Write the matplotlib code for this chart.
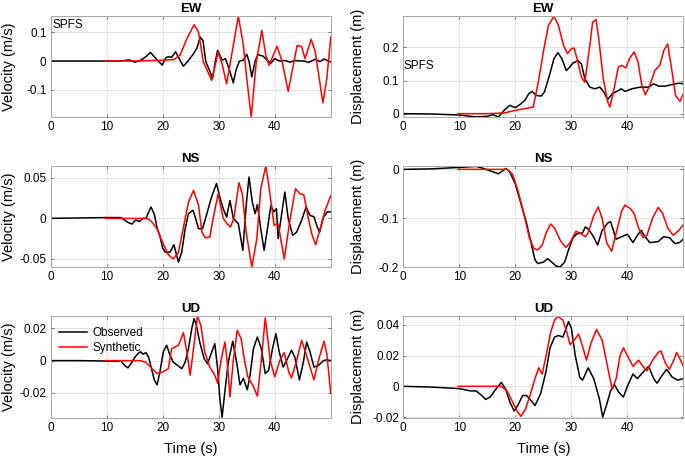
import numpy as np
import matplotlib
matplotlib.use("Agg")
import matplotlib.pyplot as plt

plt.rcParams['font.family'] = ['Liberation Sans', 'DejaVu Sans']

# ---- EW velocity (m/s) ----
ew_vel_obs_t = [0, 5, 10, 12.5, 14, 15, 16, 17, 17.8, 18.8, 19.9, 20.6, 21.1, 21.6, 22.3, 23.1, 23.7, 24.5, 25.5, 26.1, 26.7, 27.2, 27.7, 28.3, 28.9, 29.4, 29.8, 30.6, 31.2, 31.9, 32.6, 33.1, 33.7, 34.4, 35.0, 35.4, 35.9, 36.5, 37.0, 37.9, 38.7, 39.3, 40.0, 40.9, 41.8, 42.7, 43.6, 44.5, 45.3, 46.0, 47.2, 48.1, 48.8, 49.6, 50]
ew_vel_obs = [0, 0, 0, 0.0, 0.004, -0.004, 0.002, 0.015, 0.03, 0.008, -0.014, 0.012, 0.015, 0.013, 0.032, 0.002, -0.018, 0.0, 0.025, 0.045, 0.083, 0.07, -0.003, -0.03, -0.06, 0.0, 0.037, 0.003, 0.008, -0.03, -0.076, -0.03, 0.0, 0.003, 0.023, 0.0, -0.055, 0.0, 0.022, 0.017, 0.002, -0.008, 0.008, 0.0, 0.002, -0.004, 0.002, 0.0, 0.0, -0.005, 0.006, -0.002, 0.007, 0.0, -0.003]
ew_vel_syn_t = [9.8, 15, 20, 22.0, 23.1, 24.3, 25.6, 26.4, 27.25, 28.75, 29.9, 30.6, 31.4, 32.6, 33.5, 34.4, 35.0, 35.8, 36.7, 37.7, 38.4, 39.0, 40.4, 41.3, 42.4, 43.3, 44.0, 44.8, 45.4, 46.5, 47.2, 48.6, 49.3, 50]
ew_vel_syn = [0, 0.0, 0.003, 0.005, 0.02, 0.077, 0.126, 0.1, -0.003, -0.067, 0.031, -0.01, -0.079, 0.054, 0.156, 0.054, -0.06, -0.194, -0.003, 0.106, 0.02, -0.015, 0.051, 0.0, -0.105, -0.015, 0.054, 0.05, 0.008, 0.075, 0.035, -0.145, -0.06, 0.083]

# ---- EW displacement (m) ----
ew_dis_obs_t = [0, 5, 10, 13, 15, 16, 17, 18, 19, 20, 21, 21.7, 22.4, 23.0, 23.7, 24.6, 25.2, 26.1, 26.9, 27.6, 28.3, 29.1, 29.7, 30.3, 31.2, 31.8, 32.4, 33.3, 34.2, 35.1, 35.8, 36.5, 37.3, 38.1, 38.9, 39.6, 40.8, 42.3, 43.8, 44.7, 45.6, 46.8, 48.0, 49.2, 50]
ew_dis_obs = [0, -0.001, -0.004, -0.01, -0.008, -0.003, -0.01, 0.01, 0.025, 0.018, 0.03, 0.04, 0.06, 0.067, 0.055, 0.053, 0.065, 0.116, 0.166, 0.184, 0.166, 0.13, 0.14, 0.153, 0.16, 0.15, 0.106, 0.08, 0.075, 0.08, 0.065, 0.043, 0.06, 0.067, 0.075, 0.067, 0.075, 0.08, 0.08, 0.09, 0.083, 0.083, 0.088, 0.092, 0.09]
ew_dis_syn_t = [9.8, 15, 18, 20, 21.7, 23.2, 24.1, 25.0, 25.9, 26.9, 27.7, 28.6, 29.3, 30.0, 30.5, 31.1, 31.8, 32.4, 33.3, 33.8, 34.4, 34.9, 35.7, 36.5, 36.9, 37.5, 38.4, 39.0, 39.7, 40.4, 41.2, 41.9, 42.6, 43.2, 44.0, 44.9, 45.8, 46.5, 47.2, 47.9, 48.6, 49.4, 50]
ew_dis_syn = [0, 0, 0.002, 0.01, 0.015, 0.02, 0.095, 0.186, 0.266, 0.294, 0.266, 0.206, 0.181, 0.196, 0.198, 0.16, 0.11, 0.095, 0.206, 0.276, 0.284, 0.226, 0.106, 0.035, 0.02, 0.065, 0.141, 0.146, 0.138, 0.166, 0.186, 0.156, 0.085, 0.057, 0.085, 0.13, 0.146, 0.19, 0.21, 0.136, 0.055, 0.037, 0.06]

# ---- NS velocity (m/s) ----
ns_vel_obs_t = [0, 5, 10, 12.5, 13.8, 14.5, 15.2, 15.8, 16.5, 17.0, 17.5, 17.9, 18.5, 19.0, 19.5, 20.0, 20.5, 21.3, 22.0, 22.8, 23.4, 24.0, 24.6, 25.4, 25.8, 26.4, 27.1, 27.8, 28.7, 29.6, 30.2, 30.8, 31.4, 32.0, 32.6, 33.5, 34.3, 34.9, 35.4, 36.0, 36.5, 36.9, 37.5, 38.1, 38.7, 39.3, 39.8, 40.3, 40.6, 41.2, 41.8, 42.4, 43.2, 43.9, 44.8, 45.6, 46.3, 47.0, 47.6, 48.0, 48.7, 49.4, 50]
ns_vel_obs = [0, 0.0005, 0.001, 0.001, -0.005, -0.007, -0.002, -0.004, 0.0, 0.0, 0.008, 0.014, 0.005, -0.012, -0.022, -0.037, -0.042, -0.0416, -0.0325, -0.054, -0.0416, -0.0128, 0.0058, 0.01, 0.0016, -0.0128, -0.0128, 0.0037, 0.026, 0.043, 0.026, 0.012, 0.0016, 0.022, 0.0, -0.0066, -0.0395, 0.016, 0.051, 0.02, 0.0058, 0.017, -0.0128, -0.0395, -0.0128, 0.016, 0.008, 0.012, -0.025, 0.0037, 0.0325, 0.0, -0.021, -0.017, -0.0025, 0.014, 0.0037, 0.002, -0.0107, -0.017, 0.0016, 0.008, 0.008]
ns_vel_syn_t = [9.8, 15, 17.0, 17.5, 18.0, 19.0, 20.0, 21.0, 21.9, 22.8, 23.7, 24.6, 25.5, 26.4, 27.0, 27.6, 28.4, 29.1, 29.9, 30.8, 31.5, 32.1, 32.7, 33.6, 34.2, 34.9, 35.9, 36.8, 37.5, 38.4, 39.1, 39.9, 40.6, 41.7, 42.7, 43.7, 44.5, 45.2, 46.0, 46.6, 47.3, 48.1, 49.0, 50]
ns_vel_syn = [0, 0, 0.0, -0.001, -0.004, -0.013, -0.03, -0.045, -0.05, -0.042, -0.011, 0.02, 0.0346, 0.016, -0.017, -0.024, -0.023, 0.0037, 0.0304, 0.0, -0.0066, -0.0107, 0.0, 0.044, 0.0304, -0.017, -0.06, -0.025, 0.0366, 0.0646, 0.0325, -0.0086, -0.0066, -0.05, -0.0025, 0.0366, 0.0304, 0.029, 0.0, -0.019, -0.0325, -0.0128, 0.01, 0.028]

# ---- NS displacement (m) ----
ns_dis_obs_t = [0, 5, 10, 13, 14, 16, 17, 17.5, 18.3, 19, 20, 21, 22, 22.8, 23.5, 24, 25, 25.8, 26.5, 27.3, 28, 28.8, 29.5, 30.3, 31, 32, 32.5, 33, 33.8, 34.7, 35.5, 36.5, 37, 37.5, 38, 39, 40, 41, 41.8, 42.5, 43, 44, 45.5, 46.5, 47.5, 48.5, 49.3, 50]
ns_dis_obs = [0, 0.001, 0.004, 0.006, 0.003, -0.005, -0.009, -0.005, 0.002, -0.005, -0.03, -0.07, -0.11, -0.15, -0.185, -0.193, -0.19, -0.183, -0.19, -0.198, -0.2, -0.19, -0.165, -0.14, -0.132, -0.13, -0.118, -0.122, -0.135, -0.155, -0.125, -0.11, -0.107, -0.125, -0.143, -0.138, -0.133, -0.15, -0.135, -0.125, -0.135, -0.15, -0.148, -0.138, -0.14, -0.152, -0.15, -0.143]
ns_dis_syn_t = [9.8, 15, 18.5, 19.5, 20.5, 21.5, 22.5, 23.3, 24, 24.8, 25.5, 26.3, 27, 28, 29, 29.8, 30.8, 31.5, 32.5, 33, 34, 34.8, 35.5, 36.3, 37.2, 38, 39, 39.6, 40.5, 41.2, 42, 42.8, 43.5, 44.5, 45.5, 46.3, 47.2, 48.2, 49.2, 50]
ns_dis_syn = [0, 0, 0, -0.01, -0.045, -0.09, -0.14, -0.162, -0.165, -0.155, -0.13, -0.112, -0.12, -0.145, -0.16, -0.15, -0.127, -0.13, -0.138, -0.13, -0.095, -0.077, -0.1, -0.15, -0.168, -0.13, -0.085, -0.073, -0.08, -0.09, -0.12, -0.14, -0.135, -0.1, -0.078, -0.09, -0.12, -0.135, -0.125, -0.113]

# ---- UD velocity (m/s) ----
ud_vel_obs_t = [0, 5, 11, 11.5, 12.5, 13.2, 13.8, 14.5, 15, 15.5, 16, 16.5, 17, 17.5, 18, 18.5, 19, 19.5, 20.1, 20.7, 21.3, 21.9, 22.8, 23.4, 24.0, 24.6, 25.2, 25.6, 26.0, 26.6, 27.4, 28.0, 28.75, 29.3, 29.8, 30.2, 30.6, 31.1, 31.7, 32.5, 33.2, 33.8, 34.4, 35.1, 35.6, 36.2, 36.9, 37.6, 38.3, 38.9, 39.6, 40.2, 40.8, 41.5, 42.1, 43.0, 43.6, 44.4, 45.1, 45.7, 46.3, 47.0, 47.8, 48.7, 49.3, 50]
ud_vel_obs = [0, 0, -0.0003, -0.0005, 0.0, -0.003, -0.0045, -0.001, 0.002, 0.004, 0.0055, 0.004, 0.005, 0.002, -0.005, -0.012, -0.015, -0.007, 0.0054, 0.0095, 0.0033, -0.001, -0.0033, -0.005, -0.001, 0.0074, 0.02, 0.026, 0.022, 0.0115, 0.0012, -0.002, 0.0054, 0.0105, -0.005, -0.0235, -0.035, -0.019, -0.001, 0.012, -0.001, -0.015, -0.011, -0.018, -0.009, 0.0074, 0.0146, 0.0074, -0.008, -0.006, 0.0074, 0.0167, 0.0054, -0.004, 0.0, 0.0064, 0.002, -0.012, -0.001, 0.0115, 0.0054, -0.004, -0.003, 0.0, 0.0005, 0.0]
ud_vel_syn_t = [9.8, 15, 16, 17, 18.1, 19, 20, 21.0, 21.6, 22.2, 22.8, 23.7, 24.3, 24.9, 25.5, 26.2, 26.8, 27.5, 28.4, 29.3, 29.8, 30.4, 31.1, 31.5, 32.0, 32.6, 33.3, 34.0, 34.6, 35.2, 36.2, 36.9, 37.6, 38.3, 38.8, 39.2, 40.0, 40.9, 41.7, 42.5, 43.0, 43.9, 44.8, 45.7, 47.0, 47.8, 48.8, 49.3, 50]
ud_vel_syn = [0, 0, 0, -0.001, -0.005, -0.008, -0.007, -0.005, 0.0074, 0.0085, 0.0095, 0.0173, 0.0054, -0.009, 0.0074, 0.0276, 0.022, 0.0054, -0.004, -0.009, -0.014, 0.0, 0.0115, 0.0, -0.0225, 0.0, 0.0188, 0.0136, 0.0, -0.01, -0.016, -0.022, 0.0, 0.0264, 0.012, 0.0, -0.01, 0.0, 0.005, -0.007, -0.0107, 0.0, 0.0126, 0.003, -0.012, 0.0, 0.012, 0.004, -0.0204]

# ---- UD displacement (m) ----
ud_dis_obs_t = [0, 5, 10, 12, 13, 14, 14.7, 15.5, 16.5, 17.5, 18.3, 19, 19.8, 20.5, 21.3, 22, 23, 23.5, 24.5, 25.5, 26.2, 27, 27.7, 28.5, 29.5, 30, 30.7, 31.5, 32, 33, 34, 35, 35.6, 36.3, 37, 37.7, 38.5, 39.3, 40, 41, 41.8, 43, 43.8, 44.7, 45.3, 46, 47, 48, 49, 50]
ud_dis_obs = [0, -0.0005, -0.0015, -0.003, -0.003, -0.006, -0.0085, -0.007, -0.002, 0.0025, -0.002, -0.01, -0.016, -0.012, -0.006, -0.006, -0.01, -0.0125, -0.005, 0.01, 0.025, 0.032, 0.033, 0.032, 0.042, 0.038, 0.02, 0.006, 0.004, 0.012, 0.005, -0.008, -0.02, -0.012, -0.003, 0.001, -0.004, -0.007, 0.0, 0.008, 0.005, 0.01, 0.013, 0.005, 0.002, 0.006, 0.011, 0.006, 0.004, 0.005]
ud_dis_syn_t = [9.8, 15, 17.5, 18.5, 19.5, 20.3, 21, 21.8, 22.7, 23.5, 24.2, 24.8, 25.5, 26.3, 27, 27.6, 28.5, 29.2, 29.8, 30.5, 31.3, 32, 32.7, 33.5, 34.5, 35.5, 36.5, 37.3, 38, 38.7, 39.3, 40, 41, 42, 42.8, 43.5, 44.5, 45.5, 46, 46.8, 47.5, 48.3, 48.8, 49.5, 50]
ud_dis_syn = [0, 0, 0, -0.003, -0.01, -0.016, -0.0195, -0.015, -0.005, 0.005, 0.012, 0.008, 0.02, 0.035, 0.043, 0.0455, 0.043, 0.035, 0.027, 0.03, 0.034, 0.026, 0.017, 0.028, 0.037, 0.03, 0.012, -0.002, 0.005, 0.02, 0.025, 0.02, 0.013, 0.017, 0.013, 0.01, 0.017, 0.022, 0.023, 0.015, 0.011, 0.017, 0.022, 0.017, 0.013]

titles = ["EW", "NS", "UD"]
vel_ticks = [[-0.1, 0, 0.1], [-0.05, 0, 0.05], [-0.02, 0, 0.02]]
vel_ticklabels = [["-0.1", "0", "0.1"], ["-0.05", "0", "0.05"], ["-0.02", "0", "0.02"]]
dis_ticks = [[0, 0.1, 0.2], [-0.2, -0.1, 0], [-0.02, 0, 0.02, 0.04]]
dis_ticklabels = [["0", "0.1", "0.2"], ["-0.2", "-0.1", "0"], ["-0.02", "0", "0.02", "0.04"]]
vel_ylims = [(-0.195, 0.157), (-0.060, 0.065), (-0.0355, 0.0278)]
dis_ylims = [(-0.011, 0.2955), (-0.200, 0.0075), (-0.0206, 0.0459)]

vel_obs = [(ew_vel_obs_t, ew_vel_obs), (ns_vel_obs_t, ns_vel_obs), (ud_vel_obs_t, ud_vel_obs)]
vel_syn = [(ew_vel_syn_t, ew_vel_syn), (ns_vel_syn_t, ns_vel_syn), (ud_vel_syn_t, ud_vel_syn)]
dis_obs = [(ew_dis_obs_t, ew_dis_obs), (ns_dis_obs_t, ns_dis_obs), (ud_dis_obs_t, ud_dis_obs)]
dis_syn = [(ew_dis_syn_t, ew_dis_syn), (ns_dis_syn_t, ns_dis_syn), (ud_dis_syn_t, ud_dis_syn)]

W, H = 685, 458
fig = plt.figure(figsize=(W / 100, H / 100), dpi=100)

# pixel boxes (left, right) / (top, bottom)
col_x = [(50.7, 330.7), (403.3, 683.3)]
row_y = [(15.7, 117.3), (165.7, 267.0), (315.7, 418.0)]

def style(ax, ylim, ticks, labels):
    ax.set_xlim(0, 49.99)
    ax.set_ylim(*ylim)
    ax.set_xticks([0, 10, 20, 30, 40])
    ax.set_yticks(ticks)
    ax.set_yticklabels(labels)
    ax.grid(True, color="#e3e3e3", linewidth=0.7)
    ax.set_axisbelow(True)
    for s in ax.spines.values():
        s.set_color("#a8a8a8")
        s.set_linewidth(0.7)
    ax.tick_params(direction="in", length=2.5, width=0.6, color="#606060",
                   labelsize=8.5, pad=3, top=True, right=True)

for r in range(3):
    for c in range(2):
        (x0, x1), (y0, y1) = col_x[c], row_y[r]
        ax = fig.add_axes([x0 / W, 1 - y1 / H, (x1 - x0) / W, (y1 - y0) / H])
        if c == 0:
            obs, syn = vel_obs[r], vel_syn[r]
            style(ax, vel_ylims[r], vel_ticks[r], vel_ticklabels[r])
            ax.set_ylabel("Velocity (m/s)", fontsize=10.5)
            ax.yaxis.set_label_coords(-0.125, 0.5)
        else:
            obs, syn = dis_obs[r], dis_syn[r]
            style(ax, dis_ylims[r], dis_ticks[r], dis_ticklabels[r])
            ax.set_ylabel("Displacement (m)", fontsize=10.5)
            ax.yaxis.set_label_coords(-0.138, 0.5)
        ax.plot(obs[0], obs[1], color="black", linewidth=1.1, label="Observed")
        ax.plot(syn[0], syn[1], color="red", linewidth=1.1, label="Synthetic")
        ax.set_title(titles[r], fontsize=9.5, fontweight="bold", pad=3)
        if r == 2:
            ax.set_xlabel("Time (s)", fontsize=10.5)
            ax.xaxis.set_label_coords(0.5, -0.235)
        if r == 0 and c == 0:
            ax.text(0.3, 0.125, "SPFS", fontsize=8.5, va="center", ha="left")
        if r == 0 and c == 1:
            ax.text(0.1, 0.144, "SPFS", fontsize=8.5, va="center", ha="left")
        if r == 2 and c == 0:
            ax.legend(loc="upper left", bbox_to_anchor=(0.0, 0.97), frameon=False,
                      fontsize=8.5, handlelength=2.4, labelspacing=0.25,
                      handletextpad=0.4, borderaxespad=0.3)

fig.savefig("out.png", dpi=100)
